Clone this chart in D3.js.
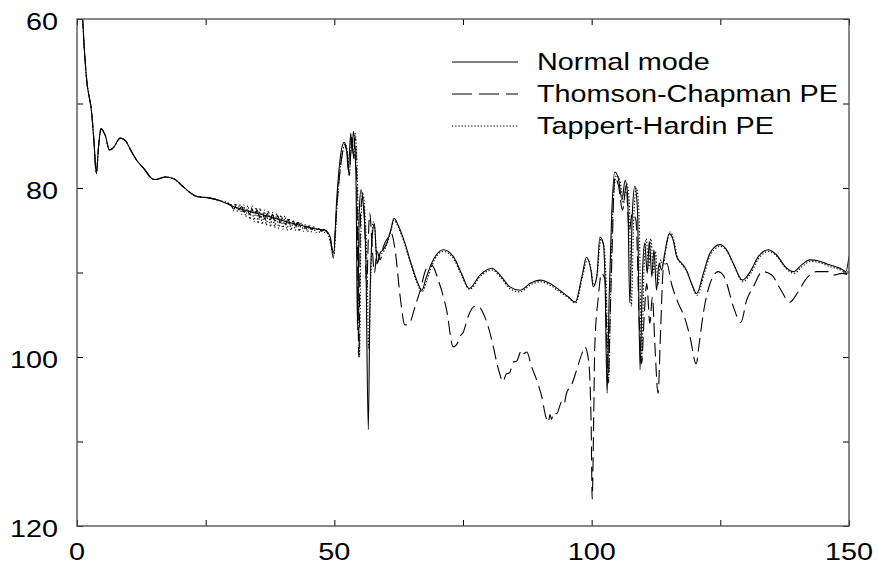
<!DOCTYPE html>
<html><head><meta charset="utf-8">
<script src="https://cdn.jsdelivr.net/npm/d3@7"></script>
<style>html,body{margin:0;padding:0;background:#fff;}svg{display:block;}</style>
</head><body>
<svg id="chart" width="878" height="565"></svg>
<script>
// ---- data (range km, loss dB) ----
const xTicks = [0, 25, 50, 75, 100, 125, 150];
const xTickLabels = [0, 50, 100, 150];
const yTicks = [60, 70, 80, 90, 100, 110, 120];
const yTickLabels = [60, 80, 100, 120];
const seriesNames = ["Normal mode", "Thomson-Chapman PE", "Tappert-Hardin PE"];

const normalMode = [
[0.5,50],[1.1,60],[1.8,66.7],[2.9,71.4],[3.3,74.5],[3.75,78.3],[4.2,75.0],[4.66,73.0],[5.5,73.8],[6.3,75.5],[7.1,75.2],[8.4,74.1],[9.4,74.4],[10.5,75.6],[11.7,76.8],[13.0,77.7],[14.6,78.9],[15.2,79.0],[17.2,78.7],[18.8,78.9],[20.7,79.9],[23.3,81.0],[25.9,81.2],[27.8,81.5],[30.4,82.2],[33.7,82.8],[36.9,83.3],[40.2,83.9],[44.0,84.5],[46.0,84.8],[48.2,85.0],[49.2,85.8],[49.8,88.3],[50.5,81.0],[51.1,76.7],[51.9,74.6],[52.4,75.5],[52.7,77.9],[53.2,73.5],[53.45,75.9],[53.7,73.3],[54.2,78.7],[54.5,96.8],[54.85,82.6],[55.2,80.2],[55.6,81.8],[56.1,87.7],[56.6,108.6],[56.9,94.4],[57.4,85.4],[57.8,84.2],[58.1,87.3],[58.35,88.9],[58.9,87.7],[59.5,87.3],[60.2,86.5],[60.95,85.0],[61.6,83.6],[62.4,84.4],[63.7,86.5],[64.7,88.5],[66.0,90.9],[67.0,92.1],[67.8,90.7],[68.9,88.9],[71.2,87.3],[73.1,88.1],[74.7,90.1],[76.2,91.9],[78.3,90.3],[80.6,89.5],[82.2,90.3],[84.1,91.7],[86.1,92.1],[88.0,91.3],[90.0,90.9],[91.9,91.3],[93.8,92.1],[95.5,92.9],[96.8,93.5],[98.1,90.5],[99.0,88.2],[99.9,89.9],[100.3,91.7],[101.0,90.5],[101.6,85.8],[102.3,86.7],[102.6,90.9],[103.0,104.3],[103.4,92.9],[103.9,83.0],[104.5,78.1],[105.2,78.9],[105.9,81.4],[106.5,79.1],[107.0,81.0],[107.4,93.6],[107.9,83.0],[108.4,79.8],[108.9,82.6],[109.4,101.5],[109.9,89.7],[110.3,86.5],[110.8,90.1],[111.2,86.3],[111.7,90.5],[112.1,87.3],[112.6,92.1],[113.1,88.9],[113.6,89.7],[114.2,87.7],[115.1,85.4],[115.8,86.1],[116.5,88.1],[117.5,88.9],[118.4,89.7],[119.4,91.3],[120.4,92.5],[121.7,90.1],[123.0,87.7],[124.9,86.7],[126.2,87.3],[127.5,88.9],[129.3,90.9],[130.8,89.9],[132.4,88.1],[134.3,87.3],[135.9,87.9],[137.6,89.3],[139.2,89.9],[140.8,89.1],[142.4,88.5],[144.0,88.6],[145.7,89.0],[147.3,89.3],[148.6,89.6],[149.4,89.9],[150,88.1]
];

const thomsonChapman = [
[0.5,50],[1.1,60],[1.8,66.7],[2.9,71.4],[3.3,74.5],[3.75,78.3],[4.2,75.0],[4.66,73.0],[5.5,73.8],[6.3,75.5],[7.1,75.2],[8.4,74.1],[9.4,74.4],[10.5,75.6],[11.7,76.8],[13.0,77.7],[14.6,78.9],[15.2,79.0],[17.2,78.7],[18.8,78.9],[20.7,79.9],[23.3,81.0],[25.9,81.2],[27.8,81.5],
[30.0,82.1],[30.5,82.5],[31.0,82.0],[31.5,82.6],[32.0,82.2],[32.5,82.9],[33.0,82.3],[33.5,83.1],[34.0,82.5],[34.5,83.3],[35.0,82.6],[35.5,83.5],[36.0,82.8],[36.5,83.7],[37.0,83.0],[37.5,83.8],[38.0,83.1],[38.5,84.0],[39.0,83.3],[39.5,84.1],[40.0,83.5],[40.5,84.3],[41.0,83.7],[41.5,84.4],[42.0,83.9],[42.5,84.5],[43.0,84.1],[43.5,84.6],[44.0,84.3],[44.5,84.8],[45.0,84.5],[45.5,84.9],[46.0,84.6],[46.5,85.0],[47.0,84.8],[47.5,85.1],[48.0,84.9],[48.5,85.2],
[49.0,85.5],[49.8,87.5],[50.5,82.0],[51.2,77.5],[52.0,75.0],[52.5,76.0],[52.9,78.5],[53.4,74.0],[53.8,76.5],[54.0,74.0],[54.4,80.0],[54.75,100.0],[55.1,83.0],[55.5,81.0],[55.9,84.0],[56.3,92.0],[56.6,86.0],[56.9,83.0],[57.3,86.5],[57.8,90.0],[58.3,87.5],[58.9,88.5],[59.5,87.0],[60.5,85.8],[61.1,85.4],[61.8,87.3],[62.8,92.9],[63.7,96.2],[64.6,96.0],[65.7,94.0],[66.6,92.3],[67.9,89.5],[68.9,89.1],[70.2,90.9],[71.8,94.4],[73.1,98.8],[73.8,98.5],[74.4,97.6],[75.1,97.0],[76.0,95.2],[77.3,94.0],[78.0,94.0],[78.9,94.8],[79.9,96.4],[80.9,98.8],[81.9,101.5],[82.8,102.9],[83.4,102.0],[84.0,101.9],[84.8,100.6],[85.4,100.5],[86.4,99.2],[86.8,99.6],[87.4,99.4],[88.3,101.1],[89.3,102.7],[90.3,104.7],[91.1,107.1],[91.6,107.7],[91.9,106.8],[92.2,107.4],[92.6,106.6],[93.2,106.7],[94.2,105.3],[94.6,105.6],[95.1,104.3],[96.1,103.3],[97.1,101.5],[98.1,99.6],[98.7,98.8],[99.4,100.4],[99.9,108.0],[100.1,116.8],[100.4,107.0],[100.6,98.8],[101.3,92.9],[101.9,90.1],[102.6,90.9],[103.2,103.1],[103.6,95.0],[103.9,88.9],[104.5,78.7],[105.2,79.7],[106.0,82.6],[106.7,79.8],[107.3,85.0],[107.9,83.0],[108.6,83.8],[109.3,96.8],[109.7,100.8],[110.2,95.2],[110.7,91.3],[111.3,96.0],[111.8,92.9],[112.3,98.8],[112.9,104.3],[113.4,96.8],[113.9,89.7],[114.6,88.9],[115.5,91.3],[116.8,93.6],[118.1,95.4],[119.1,97.6],[120.3,100.8],[120.9,98.4],[121.7,94.8],[123.0,91.3],[124.6,89.9],[125.9,90.7],[127.5,94.0],[129.0,95.9],[130.1,93.3],[131.4,91.7],[133.2,89.9],[135.0,90.3],[136.6,91.9],[138.5,93.5],[140.1,92.3],[141.5,90.9],[143.7,89.9],[146.0,89.9],[147.0,90.3],[148.6,90.1],[150,90.3]
];

const tappertHardin = [
[0.5,50],[1.1,60],[1.8,66.7],[2.9,71.4],[3.3,74.5],[3.75,78.3],[4.2,75.0],[4.66,73.0],[5.5,73.8],[6.3,75.5],[7.1,75.2],[8.4,74.1],[9.4,74.4],[10.5,75.6],[11.7,76.8],[13.0,77.7],[14.6,78.9],[15.2,79.0],[17.2,78.7],[18.8,78.9],[20.7,79.9],[23.3,81.0],[25.9,81.2],[27.8,81.5],
[30.0,82.0],[30.4,82.7],[30.8,81.8],[31.2,82.8],[31.6,81.9],[32.0,83.1],[32.4,82.0],[32.8,83.4],[33.2,82.1],[33.6,83.7],[34.0,82.1],[34.4,84.0],[34.8,82.3],[35.2,84.2],[35.6,82.4],[36.0,84.3],[36.4,82.6],[36.8,84.4],[37.2,82.7],[37.6,84.6],[38.0,82.9],[38.4,84.7],[38.8,83.0],[39.2,84.8],[39.6,83.2],[40.0,84.9],[40.4,83.3],[40.8,85.0],[41.2,83.6],[41.6,85.0],[42.0,83.8],[42.4,85.0],[42.8,84.0],[43.2,85.1],[43.6,84.1],[44.0,85.1],[44.4,84.3],[44.8,85.2],[45.2,84.4],[45.6,85.2],[46.0,84.6],[46.4,85.3],[46.8,84.7],[47.2,85.3],[47.6,84.9],[48.0,85.3],[48.4,85.0],[48.8,85.5],
[49.9,87.8],[50.6,81.5],[51.3,77.0],[52.1,74.8],[52.6,76.0],[52.9,78.5],[53.4,74.0],[53.8,76.5],[54.0,73.5],[54.5,79.0],[54.9,100.0],[55.2,84.0],[55.5,80.5],[55.9,82.5],[56.3,88.0],[56.7,99.0],[57.1,90.0],[57.5,84.0],[57.9,85.0],[58.3,89.0],[58.8,88.0],[59.5,87.6],[60.2,86.7],[60.95,85.2],[61.6,83.8],[62.4,84.6],[63.7,86.7],[64.7,88.7],[66.0,91.1],[67.0,92.3],[68.0,90.9],[69.0,89.1],[71.2,87.5],[73.1,88.3],[74.7,90.3],[76.3,92.0],[78.3,90.5],[80.6,89.7],[82.2,90.5],[84.1,91.9],[86.1,92.3],[88.0,91.5],[90.0,91.1],[91.9,91.5],[93.8,92.3],[95.5,93.0],[96.9,93.6],[98.3,90.3],[99.2,88.4],
[99.9,89.7],[100.4,91.5],[101.1,90.0],[101.8,86.0],[102.4,87.0],[102.8,91.0],[103.3,103.0],[103.7,92.0],[104.1,83.0],[104.8,78.5],[105.5,79.2],[106.2,81.8],[106.8,79.5],[107.3,81.5],[107.7,94.0],[108.2,83.0],[108.7,80.0],[109.2,83.0],[109.7,100.5],[110.2,89.0],[110.6,86.0],[111.1,89.5],[111.5,86.0],[112.0,90.0],[112.4,87.5],[112.9,91.5],[113.4,88.5],[113.9,89.2],[114.4,87.3],[115.3,85.2],
[116.0,86.3],[116.7,88.3],[117.6,89.1],[118.5,89.9],[119.5,91.5],[120.5,92.7],[121.8,90.3],[123.1,87.9],[125.0,86.9],[126.3,87.5],[127.6,89.1],[129.4,91.1],[130.9,90.1],[132.5,88.3],[134.4,87.5],[136.0,88.1],[137.7,89.5],[139.3,90.1],[140.9,89.3],[142.5,88.7],[144.1,88.8],[145.8,89.2],[147.4,89.5],[148.7,89.8],[149.5,90.1],[150,89.6]
];

// ---- drawing ----
const svg = d3.select("#chart");
const L = 77, R = 849, T = 19, B = 526;
const x = d3.scaleLinear().domain([0, 150]).range([L, R]);
const y = d3.scaleLinear().domain([60, 120]).range([T, B]);
const FONT = "'Liberation Sans', Arial, Helvetica, sans-serif";
const SX = 1.2; // horizontal stretch of the original typeface

svg.append("defs").append("clipPath").attr("id", "plotclip")
  .append("rect").attr("x", L).attr("y", T).attr("width", R - L).attr("height", B - T);

const styles = [
  {dash: null, width: 1.1},
  {dash: "14,6", width: 1.1},
  {dash: "1.3,1.9", width: 1.1}
];
const datasets = [normalMode, thomsonChapman, tappertHardin];

const line = d3.line().x(d => x(d[0])).y(d => y(d[1])).curve(d3.curveMonotoneX);
const g = svg.append("g").attr("clip-path", "url(#plotclip)");
[2, 1, 0].forEach(i => {
  g.append("path").datum(datasets[i])
    .attr("d", line).attr("fill", "none").attr("stroke", "#000")
    .attr("stroke-width", styles[i].width)
    .attr("stroke-linejoin", "round")
    .attr("stroke-dasharray", styles[i].dash);
});

// axes (ticks pointing inward, on all four sides)
const axStyle = sel => { sel.select(".domain").remove(); sel.selectAll(".tick line").attr("stroke", "#000").attr("stroke-width", 1); };
svg.append("g").attr("transform", `translate(0,${B})`).call(d3.axisBottom(x).tickValues(xTicks).tickSize(-6).tickFormat("")).call(axStyle);
svg.append("g").attr("transform", `translate(0,${T})`).call(d3.axisTop(x).tickValues(xTicks).tickSize(-6).tickFormat("")).call(axStyle);
svg.append("g").attr("transform", `translate(${L},0)`).call(d3.axisLeft(y).tickValues(yTicks).tickSize(-6).tickFormat("")).call(axStyle);
svg.append("g").attr("transform", `translate(${R},0)`).call(d3.axisRight(y).tickValues(yTicks).tickSize(-6).tickFormat("")).call(axStyle);

svg.append("rect").attr("x", L).attr("y", T).attr("width", R - L).attr("height", B - T)
  .attr("fill", "none").attr("stroke", "#555").attr("stroke-width", 1.4);

// tick labels
svg.selectAll("text.xl").data(xTickLabels).enter().append("text").attr("class", "xl")
  .attr("transform", d => `translate(${x(d)},560) scale(${SX},1)`)
  .attr("text-anchor", "middle").attr("font-family", FONT).attr("font-size", 24).attr("fill", "#000")
  .text(d => d);
svg.selectAll("text.yl").data(yTickLabels).enter().append("text").attr("class", "yl")
  .attr("transform", d => `translate(58,${y(d) + 11}) scale(${SX},1)`)
  .attr("text-anchor", "end").attr("font-family", FONT).attr("font-size", 24).attr("fill", "#000")
  .text(d => d);

// legend
const legY = [62, 94, 126];
seriesNames.forEach((name, i) => {
  svg.append("line").attr("x1", 452).attr("x2", 518).attr("y1", legY[i]).attr("y2", legY[i])
    .attr("stroke", "#000").attr("stroke-width", styles[i].width)
    .attr("stroke-dasharray", i === 1 ? "20,7" : styles[i].dash);
  svg.append("text").attr("transform", `translate(537,${legY[i] + 8}) scale(${SX},1)`)
    .attr("font-family", FONT).attr("font-size", 24).attr("fill", "#000").text(name);
});
</script>
</body></html>
